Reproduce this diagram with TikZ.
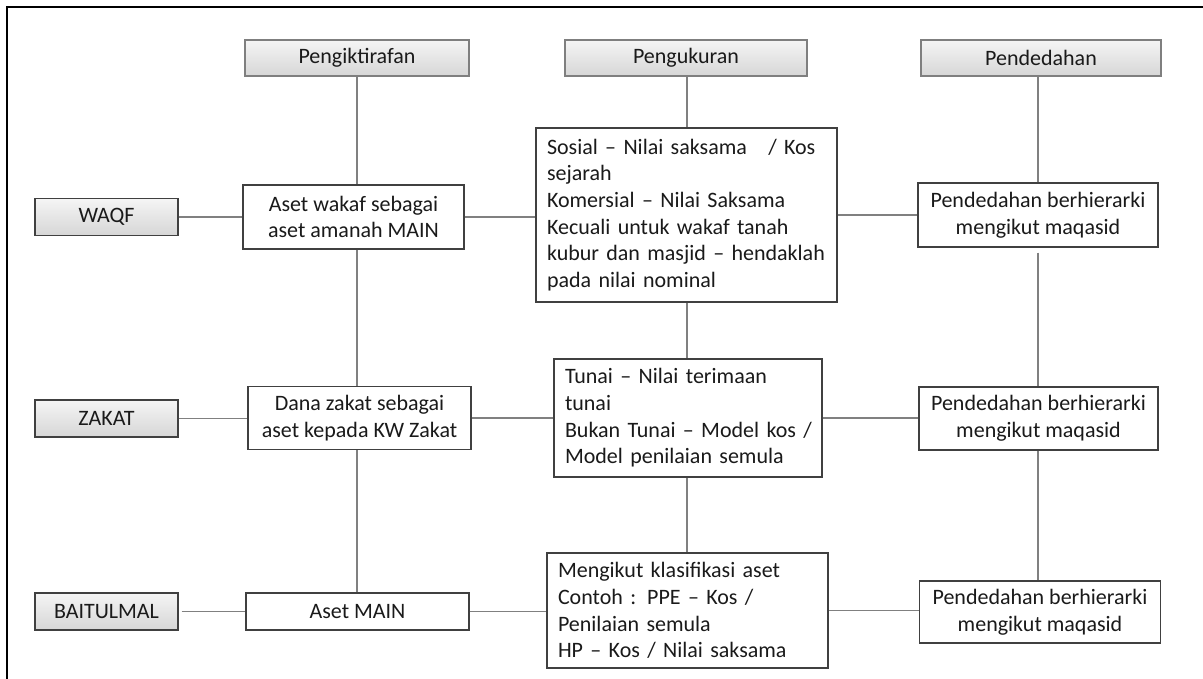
\documentclass[tikz,border=0pt]{standalone}
\usepackage{fontspec}
\setmainfont{Carlito}
\definecolor{boxborder}{HTML}{404040}
\definecolor{hdrborder}{HTML}{7F7F7F}
\definecolor{linegray}{HTML}{808080}
\definecolor{txt}{HTML}{1A1A1A}
\newcommand{\oneline}[1]{\mbox{#1}}
\begin{document}
\begin{tikzpicture}[x=1pt,y=-1pt,
  basefont/.style={font=\fontsize{22}{26.7}\selectfont, text=txt},
  hdr/.style={basefont, draw=hdrborder, line width=1.1pt, top color=gray!8, bottom color=gray!32, minimum height=36pt, inner sep=0pt},
  lbl/.style={basefont, draw=boxborder, line width=1.1pt, top color=gray!8, bottom color=gray!32, minimum width=143pt, minimum height=37pt, inner sep=0pt},
  cbox/.style={basefont, draw=boxborder, line width=1.1pt, fill=white, align=center, inner sep=0pt},
  lbox/.style={basefont, draw=boxborder, line width=1.1pt, fill=white, align=left, inner xsep=11pt, inner ysep=0pt},
  conn/.style={draw=linegray, line width=1.2pt}]
\useasboundingbox (0,0) rectangle (1203,679);
\fill[white] (0,0) rectangle (1203,679);
\draw[line width=2pt, black] (1203,7) -- (7,7) -- (7,679);

% column coordinates
\coordinate (c1) at (357,0);
\coordinate (c2) at (687,0);
\coordinate (c3) at (1038,0);

% headers
\node[hdr, minimum width=224pt] (H1) at (357,58) {Pengiktirafan};
\node[hdr, minimum width=242pt] (H2) at (686,58) {Pengukuran};
\node[hdr, minimum width=240pt] (H3) at (1041,58) {Pendedahan};

% left labels
\node[lbl] (WAQF) at (106.5,217) {WAQF};
\node[lbl] (ZAKAT) at (106.5,418.5) {ZAKAT};
\node[lbl] (BAIT) at (106.5,611.5) {BAITULMAL};

% column 1
\node[cbox, minimum width=221pt, minimum height=64pt] (A1) at (353.5,217) {Aset wakaf sebagai\\aset amanah MAIN};
\node[cbox, minimum width=223pt, minimum height=63pt] (A2) at (359.5,418) {Dana zakat sebagai\\aset kepada KW Zakat};
\node[cbox, minimum width=223pt, minimum height=37pt] (A3) at (357.5,611.5) {Aset MAIN};

% column 2
\node[lbox, text width=279pt, minimum height=174pt] (B1) at (686.5,215) {\oneline{Sosial -- Nilai saksama\hspace{14pt} / Kos}\\\oneline{sejarah}\\\oneline{Komersial -- Nilai Saksama}\\\oneline{Kecuali untuk wakaf tanah}\\\oneline{kubur dan masjid -- hendaklah}\\\oneline{pada nilai nominal}};
\node[lbox, text width=246pt, minimum height=118pt] (B2) at (688,418) {\oneline{Tunai -- Nilai terimaan}\\\oneline{tunai}\\\oneline{Bukan Tunai -- Model kos /}\\\oneline{Model penilaian semula}};
\node[lbox, text width=259pt, minimum height=115pt] (B3) at (687.5,610.5) {\oneline{Mengikut klasifikasi aset}\\\oneline{Contoh : PPE -- Kos /}\\\oneline{Penilaian semula}\\\oneline{HP -- Kos / Nilai saksama}};

% column 3
\node[cbox, minimum width=240pt, minimum height=64pt] (C1) at (1038,215) {Pendedahan berhierarki\\mengikut maqasid};
\node[cbox, minimum width=239pt, minimum height=63pt] (C2) at (1038.5,418.5) {Pendedahan berhierarki\\mengikut maqasid};
\node[cbox, minimum width=241pt, minimum height=62pt] (C3) at (1040,612) {Pendedahan berhierarki\\mengikut maqasid};

% vertical connectors
\draw[conn] (H1.south -| c1) -- (A1.north -| c1);
\draw[conn] (A1.south -| c1) -- (A2.north -| c1);
\draw[conn] (A2.south -| c1) -- (A3.north -| c1);
\draw[conn] (H2.south -| c2) -- (B1.north -| c2);
\draw[conn] (B1.south -| c2) -- (B2.north -| c2);
\draw[conn] (B2.south -| c2) -- (B3.north -| c2);
\draw[conn] (H3.south -| c3) -- (C1.north -| c3);
\draw[conn, shorten <=5pt] (C1.south -| c3) -- (C2.north -| c3);
\draw[conn] (C2.south -| c3) -- (C3.north -| c3);

% horizontal connectors
\draw[conn] (WAQF.east) -- (A1.west);
\draw[conn] (A1.east) -- (A1.east -| B1.west);
\draw[conn] (B1.east) -- (C1.west);
\draw[conn] (ZAKAT.east) -- (ZAKAT.east -| A2.west);
\draw[conn] (A2.east) -- (A2.east -| B2.west);
\draw[conn] (B2.east) -- (B2.east -| C2.west);
\draw[conn, shorten <=3pt] (BAIT.east) -- (BAIT.east -| A3.west);
\draw[conn] (A3.east) -- (A3.east -| B3.west);
\draw[conn] (B3.east) -- (B3.east -| C3.west);
\end{tikzpicture}
\end{document}
